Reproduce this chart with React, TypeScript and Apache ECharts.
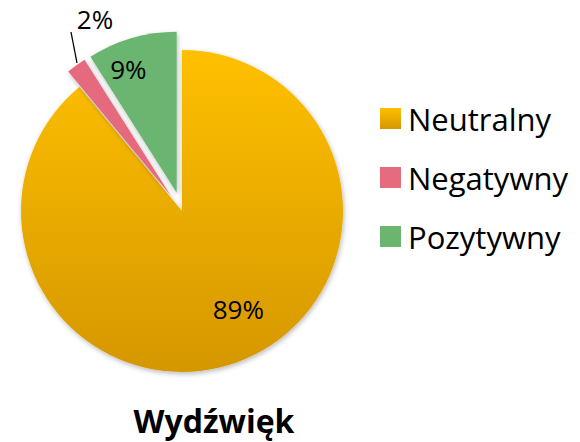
import React, { useEffect, useRef } from "react";
import * as echarts from "echarts";

const categories = ["Neutralny", "Negatywny", "Pozytywny"];
const values = [89, 2, 9];
const exploded = [false, true, true];
const chartTitle = "Wydźwięk";

const FONT = "'Open Sans', 'Noto Sans', sans-serif";

export default function App() {
  const ref = useRef<HTMLDivElement | null>(null);

  useEffect(() => {
    document.body.style.margin = "0";
    const chart = echarts.init(ref.current!, null, { renderer: "svg" });
    const colors = [
      new echarts.graphic.LinearGradient(0, 0, 0, 1, [
        { offset: 0, color: "#FFC000" },
        { offset: 1, color: "#D59700" },
      ]),
      "#E56B7E",
      "#6BB56F",
    ];
    const shadow = {
      shadowBlur: 5,
      shadowColor: "rgba(0,0,0,0.28)",
      shadowOffsetX: 1,
      shadowOffsetY: 2,
    };
    chart.setOption({
      animation: false,
      backgroundColor: "#ffffff",
      legend: {
        orient: "vertical",
        left: 375,
        top: 98,
        itemWidth: 21,
        itemHeight: 21,
        itemGap: 28,
        icon: "rect",
        selectedMode: false,
        textStyle: {
          fontFamily: FONT,
          fontSize: 31,
          lineHeight: 30,
          color: "#000",
          padding: [0, 0, 0, 2],
        },
        data: categories,
      },
      graphic: [
        {
          type: "text",
          x: 214,
          y: 420,
          style: {
            text: chartTitle,
            font: `bold 32px ${FONT}`,
            fill: "#000",
            align: "center",
            verticalAlign: "middle",
          },
        },
        {
          type: "line",
          shape: { x1: 77, y1: 63, x2: 71, y2: 32 },
          style: { stroke: "#000", lineWidth: 1.3 },
          z: 10,
        },
        {
          type: "text",
          x: 95,
          y: 19,
          style: {
            text: `${values[1]}%`,
            font: `26px ${FONT}`,
            fill: "#000",
            align: "center",
            verticalAlign: "middle",
          },
          z: 10,
        },
      ],
      series: [
        {
          type: "pie",
          center: [182, 211],
          radius: 161,
          startAngle: 90,
          clockwise: true,
          selectedMode: "multiple",
          selectedOffset: 19,
          avoidLabelOverlap: false,
          label: {
            show: true,
            position: "inside",
            formatter: "{c}%",
            fontFamily: FONT,
            fontSize: 26,
            color: "#000",
          },
          labelLine: { show: false },
          labelLayout: (params: any) => {
            if (params.dataIndex === 0) return { dx: 28, dy: 19 };
            if (params.dataIndex === 2) return { dx: -25, dy: -44 };
            return {};
          },
          data: categories.map((name, i) => ({
            name,
            value: values[i],
            selected: exploded[i],
            itemStyle: { color: colors[i], ...shadow },
            label: i === 1 ? { show: false } : undefined,
          })),
        },
      ],
    });
    return () => chart.dispose();
  }, []);

  return (
    <div
      ref={ref}
      style={{ position: "fixed", left: 0, top: 0, width: 580, height: 442 }}
    />
  );
}
